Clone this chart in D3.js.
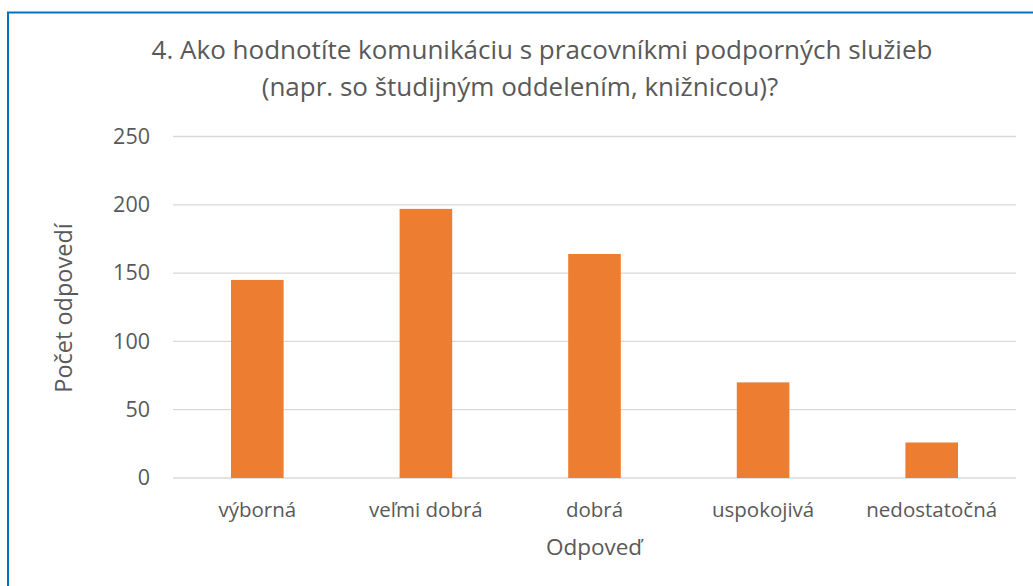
<!DOCTYPE html>
<html>
<head>
<meta charset="utf-8">
<script src="https://cdn.jsdelivr.net/npm/d3@7"></script>
<style>
  body { margin: 0; background: #fff; }
  text { font-family: "Open Sans", sans-serif; fill: #595959; }
</style>
</head>
<body>
<svg id="chart" width="1033" height="586"></svg>
<script>
const categories = ["výborná", "veľmi dobrá", "dobrá", "uspokojivá", "nedostatočná"];
const counts = [145, 197, 164, 70, 26];
const yTicks = [0, 50, 100, 150, 200, 250];
const titleLines = ["4. Ako hodnotíte komunikáciu s pracovníkmi podporných služieb", "(napr. so študijným oddelením, knižnicou)?"];
const xTitle = "Odpoveď";
const yTitle = "Počet odpovedí";

const margin = { left: 173, right: 17, top: 136.5, bottom: 108 };
const width = 1033 - margin.left - margin.right;
const height = 586 - margin.top - margin.bottom;

const svg = d3.select("#chart");

// chart frame (only left and top edges fall inside the picture)
svg.append("rect")
  .attr("x", 8).attr("y", 12.5)
  .attr("width", 1040).attr("height", 600)
  .attr("fill", "none")
  .attr("stroke", "#0070c0")
  .attr("stroke-width", 2);

const g = svg.append("g").attr("transform", `translate(${margin.left}, ${margin.top})`);

const x = d3.scaleBand().domain(categories).range([0, width]);
const y = d3.scaleLinear().domain([0, 250]).range([height, 0]);
const barWidth = x.bandwidth() * 0.312;

// gridlines
g.append("g")
  .selectAll("line")
  .data(yTicks)
  .join("line")
  .attr("x1", 0).attr("x2", width)
  .attr("y1", d => y(d)).attr("y2", d => y(d))
  .attr("stroke", "#d9d9d9")
  .attr("stroke-width", 1.3);

const yAxis = d3.axisLeft(y).tickValues(yTicks).tickSize(0).tickPadding(23);
g.append("g").call(yAxis)
  .call(s => s.select(".domain").remove())
  .selectAll("text")
  .style("font-size", "21.5px")
  .attr("fill", "#595959");

g.append("g")
  .selectAll("rect")
  .data(counts)
  .join("rect")
  .attr("x", (d, i) => x(categories[i]) + (x.bandwidth() - barWidth) / 2)
  .attr("y", d => y(d))
  .attr("width", barWidth)
  .attr("height", d => y(0) - y(d))
  .attr("fill", "#ed7d31");

const xAxis = d3.axisBottom(x).tickSize(0).tickPadding(24);
g.append("g")
  .attr("transform", `translate(0, ${height})`)
  .call(xAxis)
  .call(s => s.select(".domain").remove())
  .selectAll("text")
  .style("font-size", "20.5px")
  .attr("fill", "#595959");

svg.append("text")
  .attr("x", 594).attr("y", 555)
  .attr("text-anchor", "middle")
  .style("font-size", "22.5px")
  .text(xTitle);

svg.append("text")
  .attr("transform", "translate(72, 308) rotate(-90)")
  .attr("text-anchor", "middle")
  .style("font-size", "23.5px")
  .text(yTitle);

svg.append("g")
  .selectAll("text")
  .data(titleLines)
  .join("text")
  .attr("x", (d, i) => (i === 0 ? 542 : 520))
  .attr("y", (d, i) => 59 + i * 37)
  .attr("text-anchor", "middle")
  .style("font-size", "26px")
  .text(d => d);
</script>
</body>
</html>
